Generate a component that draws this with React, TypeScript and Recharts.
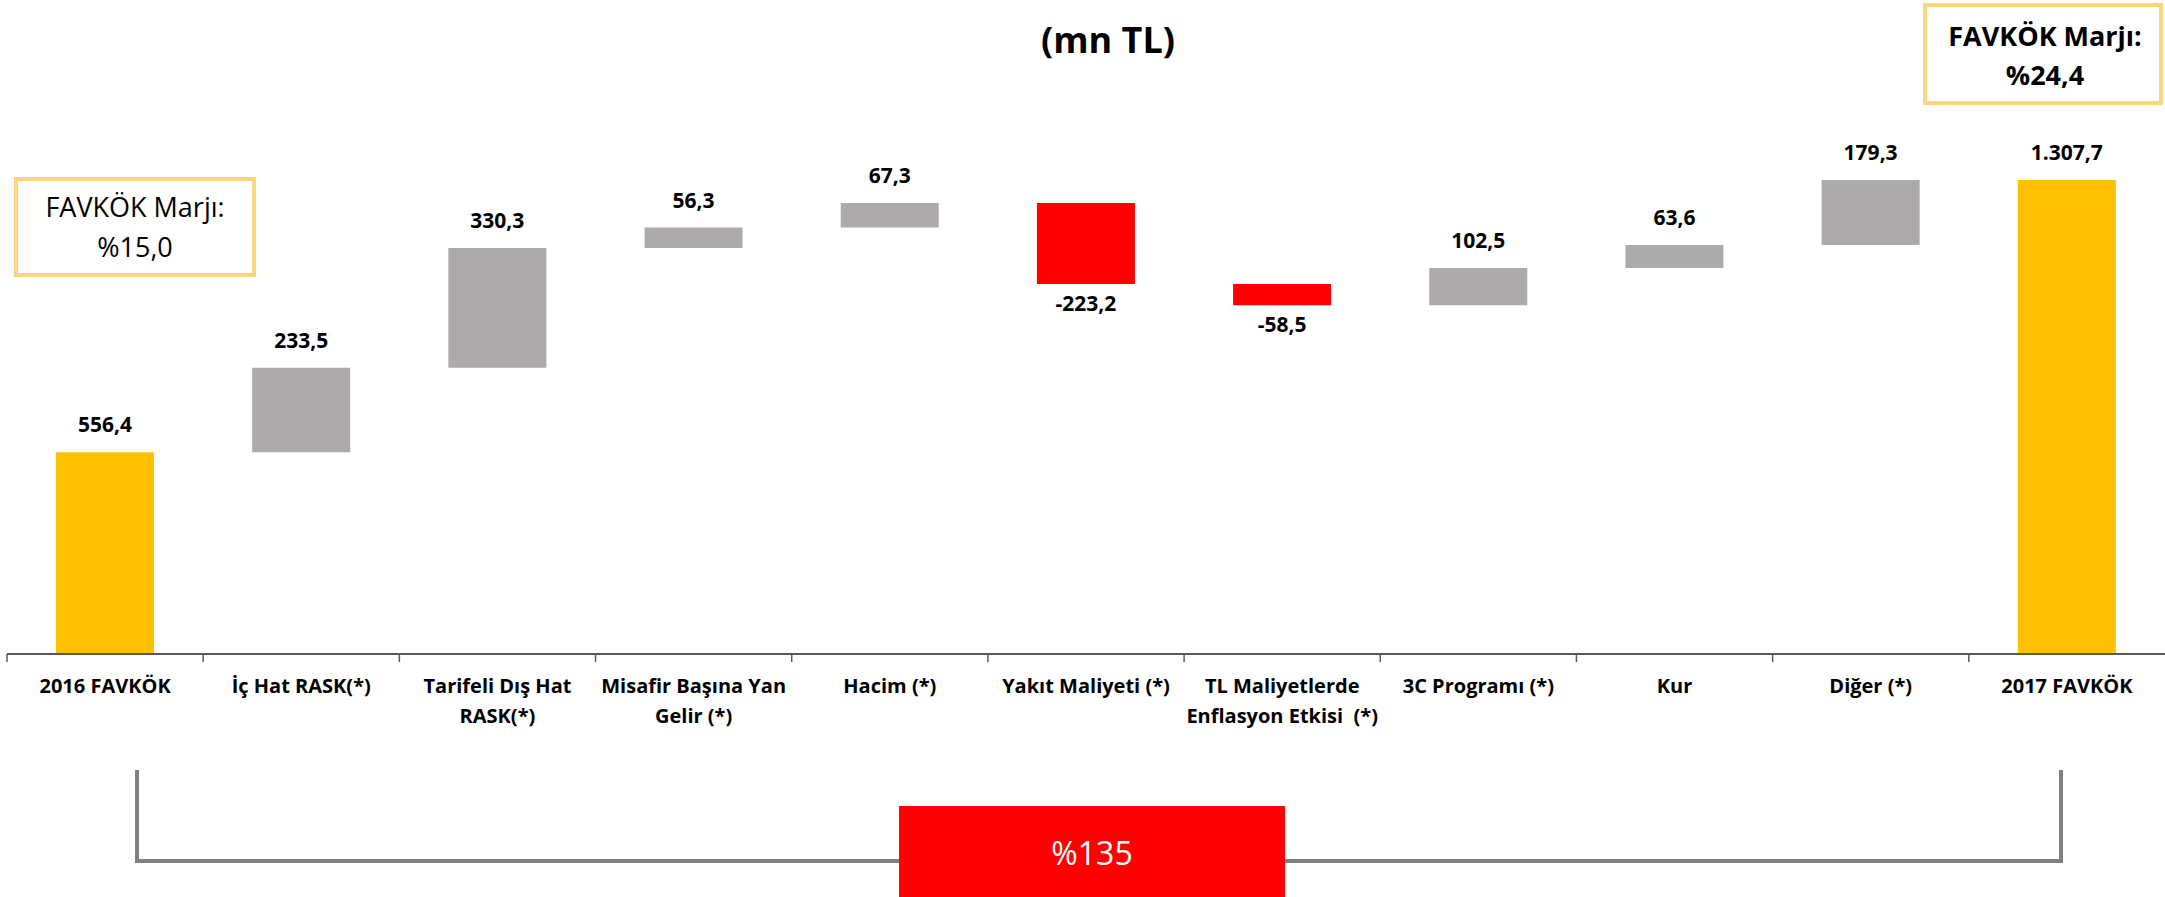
import { BarChart, Bar, XAxis, YAxis, Cell, LabelList } from 'recharts';

const categories = [
  '2016 FAVKÖK',
  'İç Hat RASK(*)',
  'Tarifeli Dış Hat\nRASK(*)',
  'Misafir Başına Yan\nGelir (*)',
  'Hacim (*)',
  'Yakıt Maliyeti (*)',
  'TL Maliyetlerde\nEnflasyon Etkisi  (*)',
  '3C Programı (*)',
  'Kur',
  'Diğer (*)',
  '2017 FAVKÖK',
];
const changes = [556.4, 233.5, 330.3, 56.3, 67.3, -223.2, -58.5, 102.5, 63.6, 179.3, 1307.7];
const isTotal = [true, false, false, false, false, false, false, false, false, false, true];

const W = 2165;
const H = 897;
const LEFT = 7;
const BAND = (W - LEFT) / categories.length;
const FONT = '"Open Sans", sans-serif';

function formatTr(v: number) {
  const [i, d] = Math.abs(v).toFixed(1).split('.');
  const grouped = i.replace(/\B(?=(\d{3})+(?!\d))/g, '.');
  return (v < 0 ? '-' : '') + grouped + ',' + d;
}

let running = 0;
const data = categories.map((name, idx) => {
  const v = changes[idx];
  let base: number;
  if (isTotal[idx]) {
    base = 0;
    running = v;
  } else {
    const end = running + v;
    base = Math.min(running, end);
    running = end;
  }
  return { name, base, size: Math.abs(v), change: v, total: isTotal[idx] };
});

function barColor(d: { total: boolean; change: number }) {
  if (d.total) return '#FFC000';
  return d.change < 0 ? '#FF0000' : '#AEAAAA';
}

function CategoryTick(props: any) {
  const { x, y, payload } = props;
  const lines = String(payload.value).split('\n');
  return (
    <g>
      <line x1={x - BAND / 2} x2={x - BAND / 2} y1={y} y2={y + 8} stroke="#595959" strokeWidth={1.5} />
      {lines.map((ln, i) => (
        <text
          key={i}
          x={x}
          y={y + 39 + i * 30}
          textAnchor="middle"
          fontFamily={FONT}
          fontWeight={700}
          fontSize={20}
          fill="#000"
          style={{ whiteSpace: 'pre' }}
        >
          {ln}
        </text>
      ))}
    </g>
  );
}

function ValueLabel(props: any) {
  const { x, y, width, height, index } = props;
  const v = changes[index];
  const neg = v < 0;
  const ty = neg ? y + height + 27 : y - 20;
  return (
    <text x={x + width / 2} y={ty} textAnchor="middle" fontFamily={FONT} fontWeight={700} fontSize={21} fill="#000">
      {formatTr(v)}
    </text>
  );
}

export default function App() {
  return (
    <div style={{ position: 'absolute', left: 0, top: 0, width: W, height: H, background: '#fff' }}>
      <BarChart width={W} height={H} data={data} margin={{ top: 74, right: 0, left: LEFT, bottom: 0 }} barSize={98}>
        <XAxis
          dataKey="name"
          height={243}
          interval={0}
          tickLine={false}
          tickSize={0}
          tickMargin={0}
          axisLine={{ stroke: '#595959', strokeWidth: 2 }}
          tick={<CategoryTick />}
        />
        <YAxis hide width={0} domain={[0, 1600]} />
        <Bar dataKey="base" stackId="w" fill="transparent" isAnimationActive={false} />
        <Bar dataKey="size" stackId="w" isAnimationActive={false}>
          {data.map((d, i) => (
            <Cell key={i} fill={barColor(d)} />
          ))}
          <LabelList dataKey="size" content={<ValueLabel />} />
        </Bar>
      </BarChart>
      <svg width={W} height={H} style={{ position: 'absolute', left: 0, top: 0, pointerEvents: 'none' }}>
        <text x={1108} y={53} textAnchor="middle" fontFamily={FONT} fontWeight={700} fontSize={36} fill="#000">
          (mn TL)
        </text>
        <rect x={16} y={179} width={238} height={96} fill="#fff" stroke="#FFD47F" strokeWidth={4} />
        <text x={135} y={217} textAnchor="middle" fontFamily={FONT} fontSize={27} fill="#000">
          FAVKÖK Marjı:
        </text>
        <text x={135} y={257} textAnchor="middle" fontFamily={FONT} fontSize={27} fill="#000">
          %15,0
        </text>
        <rect x={1925} y={5} width={236} height={98} fill="#fff" stroke="#FFD47F" strokeWidth={4} />
        <text x={2045} y={46} textAnchor="middle" fontFamily={FONT} fontWeight={700} fontSize={27} fill="#000">
          FAVKÖK Marjı:
        </text>
        <text x={2045} y={85} textAnchor="middle" fontFamily={FONT} fontWeight={700} fontSize={27} fill="#000">
          %24,4
        </text>
        <path d="M137,770 L137,861 L2061,861 L2061,770" fill="none" stroke="#808080" strokeWidth={4} />
        <rect x={899} y={806} width={386} height={91} fill="#FF0000" />
        <text x={1092} y={865} textAnchor="middle" fontFamily={FONT} fontSize={32} fill="#fff">
          %135
        </text>
      </svg>
    </div>
  );
}
